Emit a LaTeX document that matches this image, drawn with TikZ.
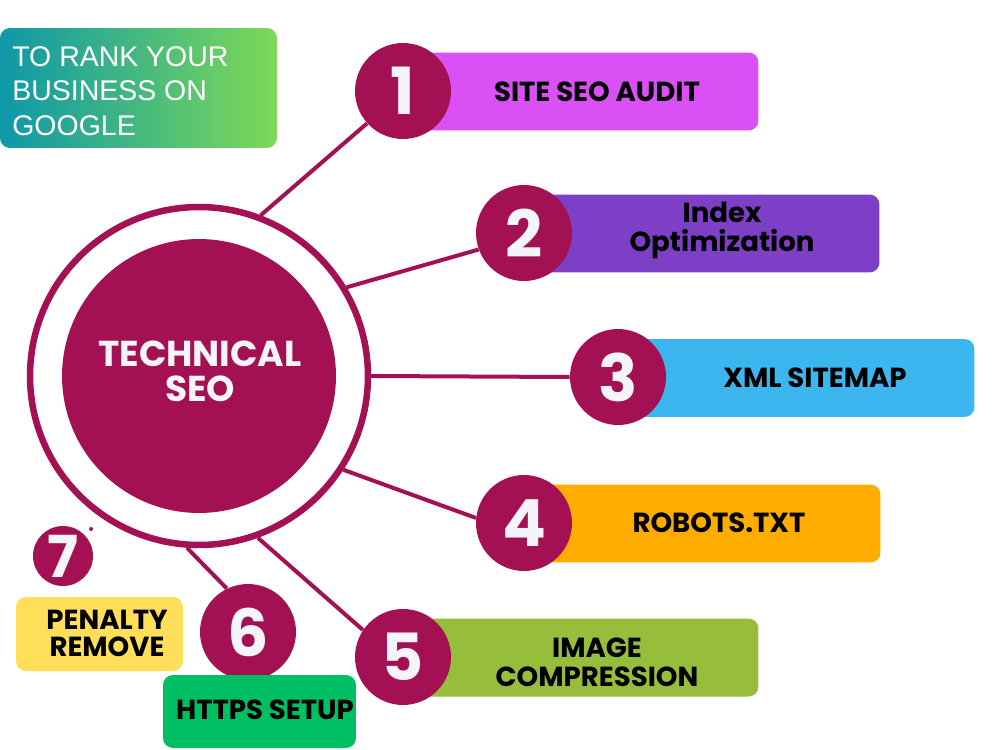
\documentclass[tikz,border=0pt]{standalone}
\usepackage{fontspec}
\setmainfont{Poppins}
\newfontfamily\plainfont{Liberation Sans}
\definecolor{seo}{RGB}{163,17,84}
\definecolor{numwhite}{RGB}{245,244,248}
\definecolor{box1}{RGB}{217,80,245}
\definecolor{box2}{RGB}{124,63,198}
\definecolor{box3}{RGB}{60,182,238}
\definecolor{box4}{RGB}{255,172,0}
\definecolor{box5}{RGB}{151,190,59}
\definecolor{box6}{RGB}{0,191,99}
\definecolor{box7}{RGB}{255,222,89}
\definecolor{tealgrad}{RGB}{14,152,168}
\definecolor{greengrad}{RGB}{126,217,87}
\begin{document}
\begin{tikzpicture}[x=0.02cm,y=-0.02cm,
    numdisk/.style={circle,fill=seo,minimum size=1.92cm,inner sep=0pt,text=numwhite,font=\fontsize{37}{37}\selectfont\bfseries},
    itembox/.style={rounded corners=0.2cm,minimum width=7.12cm,minimum height=1.56cm,inner sep=0pt},
    itemlabel/.style={align=center,inner sep=0pt,font=\fontsize{15.7}{16.5}\selectfont\bfseries},
    spoke/.style={draw=seo,line width=0.08cm}]
    \path[use as bounding box,fill=white] (0,0) rectangle (1000,750);
    % heading
    \node[rounded corners=0.2cm,left color=tealgrad,right color=greengrad,minimum width=5.54cm,minimum height=2.4cm] (head) at (138.5,88) {};
    \node[anchor=west,align=left,inner sep=0pt,text=white,font=\plainfont\fontsize{16.2}{19.5}\selectfont] (headtext) at (12,91) {TO RANK YOUR\\BUSINESS ON\\GOOGLE};
    % centre
    \node[circle,draw=seo,line width=0.13cm,minimum size=6.76cm] (ring) at (199,376) {};
    \node[circle,fill=seo,minimum size=5.48cm] (core) at (199,376) {};
    \node[align=center,text=numwhite,font=\fontsize{20.5}{20}\selectfont\bfseries] (coretext) at (200,371) {TECHNICAL\\SEO};
    % steps 1-5
    \foreach \n/\cx/\cy/\bx/\by/\col in {1/403/91/580.5/91.5/box1, 2/524/233/701.5/233.5/box2, 3/618/377/796.5/378/box3, 4/524/523/702.5/523.5/box4, 5/403/657/580.5/657.5/box5} {
      \node[itembox,fill=\col] (b\n) at (\bx,\by) {};
      \node[numdisk] (c\n) at (\cx,\cy) {\n};
    }
    \node[itemlabel] (t1) at (597,92) {SITE SEO AUDIT};
    \node[itemlabel] (t2) at (722,230) {Index\\Optimization};
    \node[itemlabel] (t3) at (815,378) {XML SITEMAP};
    \node[itemlabel] (t4) at (719,523) {ROBOTS.TXT};
    \node[itemlabel] (t5) at (597,662) {IMAGE\\COMPRESSION};
    % steps 6 and 7
    \node[numdisk] (c6) at (248,632) {6};
    \node[itembox,fill=box6,minimum width=3.86cm,minimum height=1.46cm] (b6) at (259.5,711.5) {};
    \node[itemlabel] (t6) at (265,710) {HTTPS SETUP};
    \node[itembox,fill=box7,minimum width=3.34cm,minimum height=1.48cm] (b7) at (99.5,634) {};
    \node[itemlabel,font=\fontsize{15.7}{15.3}\selectfont\bfseries] (t7) at (107,633) {PENALTY\\REMOVE};
    \node[numdisk,minimum size=1.2cm,font=\fontsize{33}{33}\selectfont\bfseries] (c7) at (63,556) {7};
    \node[circle,fill=seo,minimum size=0.08cm,inner sep=0pt] (dot7) at (91,529) {};
    % spokes
    \draw[spoke] (ring.69) -- (c1.222);
    \draw[spoke] (ring.31) -- (c2.200);
    \draw[spoke] (ring.0) -- (c3.180);
    \draw[spoke] (ring.-33) -- (c4.174);
    \draw[spoke] (ring.-70) -- (c5.146);
    \draw[spoke] (ring.-94) -- (c6.116);
  \end{tikzpicture}
\end{document}
